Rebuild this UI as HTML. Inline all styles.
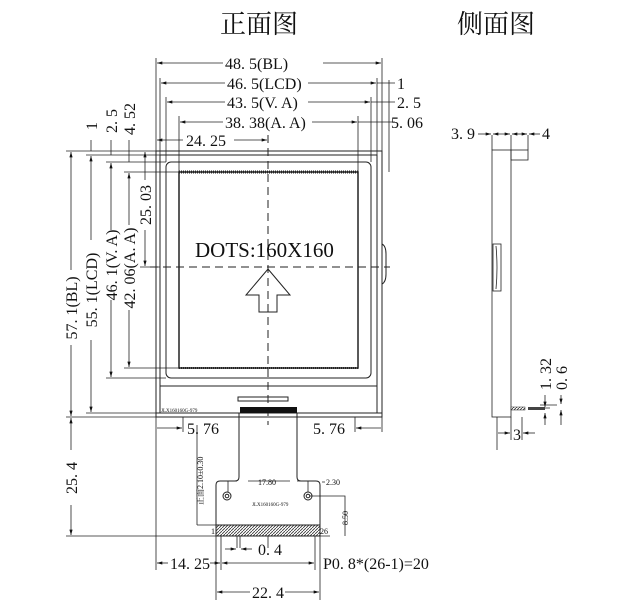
<!DOCTYPE html>
<html><head><meta charset="utf-8"><style>
html,body{margin:0;padding:0;background:#fff}
svg{display:block}
text{font-family:"Liberation Serif","Noto Serif CJK SC",serif;fill:#111}
</style></head><body>
<svg width="622" height="611" viewBox="0 0 622 611" xmlns="http://www.w3.org/2000/svg">
<defs>
<marker id="a" viewBox="0 0 10 6" refX="10" refY="3" markerWidth="8" markerHeight="4" orient="auto-start-reverse"><path d="M0,0L10,3L0,6z" fill="#111"/></marker>
<pattern id="h" width="3" height="3" patternUnits="userSpaceOnUse"><rect width="3" height="3" fill="#fff"/><path d="M0,3L3,0" stroke="#333" stroke-width="0.8"/></pattern>
</defs>
<g font-size="26" font-family="Noto Serif CJK SC,serif">
<text x="220" y="33">正面图</text>
<text x="457" y="33">侧面图</text>
</g>
<g fill="none" stroke="#222" stroke-width="1">
<rect x="156" y="151" width="226" height="266"/>
<path d="M160,155H377V413H160Z"/>
<line x1="160" y1="386" x2="377" y2="386"/>
<rect x="238" y="397" width="50" height="4"/>
<path d="M156,413h27M355,413h27"/>
<rect x="166" y="162" width="205" height="216" rx="5"/>
<rect x="179" y="172" width="179" height="196" stroke-width="1.5"/>
<path d="M179,172h179" stroke-width="3" stroke-dasharray="1 1"/>
<path d="M179,368h179" stroke-width="2" stroke-dasharray="1 1"/>
<path d="M382,244q4,2 4,10v20q0,8-4,10"/>
<path d="M268,135V425M150,267H390" stroke-dasharray="8 5"/>
<path d="M268,269L290,295H277V312H259V295H246Z"/>
<path d="M239,413V477q0,4-4,4H220q-4,0-4,4V536M297,413V477q0,4 4,4H316q4,0 4,4V536"/>
<rect x="216" y="525" width="104" height="11" fill="url(#h)"/>
<circle cx="227" cy="496" r="4"/><circle cx="227" cy="496" r="1.8"/>
<circle cx="308" cy="496" r="4"/><circle cx="308" cy="496" r="1.8"/>
</g>
<rect x="240" y="407" width="57" height="6" fill="#111"/>
<text x="195" y="257" font-size="21">DOTS:160X160</text>
<text x="161" y="412" font-size="5">JLX160160G-979</text>
<text x="252" y="506" font-size="5">JLX160160G-979</text>

<g stroke="#222" stroke-width="0.8" fill="none">
<path d="M156,151V58M382,151V58M160,155V78M377,155V78M166,162V97M371,162V97M179,172V116M358,172V116M389,80V155M389,98V162M389,117V172"/>
<line x1="157" y1="63" x2="223" y2="63" marker-start="url(#a)"/><line x1="323" y1="63" x2="381" y2="63" marker-end="url(#a)"/>
<line x1="161" y1="83" x2="225" y2="83" marker-start="url(#a)"/><line x1="308" y1="83" x2="376" y2="83" marker-end="url(#a)"/>
<path d="M377,83H395"/>
<line x1="167" y1="102" x2="225" y2="102" marker-start="url(#a)"/><line x1="308" y1="102" x2="370" y2="102" marker-end="url(#a)"/>
<path d="M371,102H395"/>
<line x1="180" y1="122" x2="223" y2="122" marker-start="url(#a)"/><line x1="312" y1="122" x2="357" y2="122" marker-end="url(#a)"/>
<path d="M358,122H395"/>
<line x1="157" y1="140" x2="183" y2="140" marker-start="url(#a)"/><line x1="234" y1="140" x2="267" y2="140" marker-end="url(#a)"/>
<path d="M66,151H156M86,155H160M106,162H166M124,172H179M140,267H160M66,417H156M86,413H160M106,378H166M124,368H179M66,536H330"/>
<line x1="71" y1="152" x2="71" y2="270" marker-start="url(#a)"/><line x1="71" y1="345" x2="71" y2="416" marker-end="url(#a)"/>
<line x1="91" y1="156" x2="91" y2="240" marker-start="url(#a)"/><line x1="91" y1="340" x2="91" y2="412" marker-end="url(#a)"/>
<line x1="111" y1="163" x2="111" y2="230" marker-start="url(#a)"/><line x1="111" y1="300" x2="111" y2="377" marker-end="url(#a)"/>
<line x1="129" y1="173" x2="129" y2="225" marker-start="url(#a)"/><line x1="129" y1="310" x2="129" y2="367" marker-end="url(#a)"/>
<line x1="145" y1="152" x2="145" y2="180" marker-start="url(#a)"/><line x1="145" y1="230" x2="145" y2="266" marker-end="url(#a)"/>
<path d="M91,140V151M111,140V155M129,140V162"/>
<line x1="71" y1="418" x2="71" y2="450" marker-start="url(#a)"/><line x1="71" y1="505" x2="71" y2="535" marker-end="url(#a)"/>
<path d="M156,417V570M183,417V432M355,417V432M382,417V432M216,536V600M320,536V600M221,536V570M315,536V570M237,536V548M240,536V548M268,536V548"/>
<line x1="157" y1="428" x2="182" y2="428" marker-end="url(#a)"/>
<line x1="356" y1="428" x2="381" y2="428" marker-start="url(#a)"/>
<line x1="157" y1="563" x2="168" y2="563" marker-start="url(#a)"/><line x1="210" y1="563" x2="220" y2="563" marker-end="url(#a)"/>
<line x1="222" y1="563" x2="314" y2="563" marker-start="url(#a)" marker-end="url(#a)"/>
<line x1="217" y1="592" x2="250" y2="592" marker-start="url(#a)"/><line x1="285" y1="592" x2="319" y2="592" marker-end="url(#a)"/>
<line x1="225" y1="549" x2="236" y2="549" marker-end="url(#a)"/><line x1="252" y1="549" x2="241" y2="549" marker-end="url(#a)"/>
<path d="M228,492V481H237M248,481H290M308,492V481H297M325,482H322M310,496H345V536M197,525H225M197,425V525"/>
<rect x="492" y="150" width="19" height="267"/>
<rect x="511" y="150" width="17" height="10"/>
<rect x="493" y="244" width="8" height="47"/>
<path d="M496,246q2,22 0,43"/>
<path d="M497,417V450M511,417V440M522,417V440M492,135V150M511,135V150M528,135V150M533,408H550M540,405H557"/>
<line x1="478" y1="134" x2="491" y2="134" marker-end="url(#a)"/>
<line x1="493" y1="134" x2="510" y2="134" marker-start="url(#a)" marker-end="url(#a)"/>
<line x1="512" y1="134" x2="527" y2="134" marker-start="url(#a)" marker-end="url(#a)"/>
<line x1="540" y1="134" x2="529" y2="134" marker-end="url(#a)"/>
<line x1="498" y1="433" x2="510" y2="433" marker-end="url(#a)"/>
<line x1="535" y1="433" x2="523" y2="433" marker-end="url(#a)"/>
<line x1="545" y1="395" x2="545" y2="407" marker-end="url(#a)"/><line x1="545" y1="425" x2="545" y2="413" marker-end="url(#a)"/>
<line x1="561" y1="395" x2="561" y2="404" marker-end="url(#a)"/><line x1="561" y1="425" x2="561" y2="410" marker-end="url(#a)"/>
</g>
<rect x="511" y="407" width="14" height="3" fill="url(#h)" stroke="#222" stroke-width="0.5"/>
<rect x="528" y="407" width="17" height="3" fill="#444"/>

<g font-size="16">
<text x="225" y="69">48. 5(BL)</text>
<text x="227" y="89">46. 5(LCD)</text>
<text x="227" y="108">43. 5(V. A)</text>
<text x="225" y="128">38. 38(A. A)</text>
<text x="186" y="146">24. 25</text>
<text x="397" y="89">1</text>
<text x="397" y="108">2. 5</text>
<text x="391" y="128">5. 06</text>
<text x="187" y="434">5. 76</text>
<text x="313" y="434">5. 76</text>
<text x="170" y="569">14. 25</text>
<text x="258" y="555">0. 4</text>
<text x="323" y="569">P0. 8*(26-1)=20</text>
<text x="252" y="598">22. 4</text>
<text x="451" y="139">3. 9</text>
<text x="542" y="139">4</text>
<text x="513" y="440">3</text>
</g>
<g font-size="16">
<text transform="translate(77,308) rotate(-90)" text-anchor="middle">57. 1(BL)</text>
<text transform="translate(97,290) rotate(-90)" text-anchor="middle">55. 1(LCD)</text>
<text transform="translate(117,265) rotate(-90)" text-anchor="middle">46. 1(V. A)</text>
<text transform="translate(135,268) rotate(-90)" text-anchor="middle">42. 06(A. A)</text>
<text transform="translate(151,205) rotate(-90)" text-anchor="middle">25. 03</text>
<text transform="translate(77,478) rotate(-90)" text-anchor="middle">25. 4</text>
<text transform="translate(97,130) rotate(-90)">1</text>
<text transform="translate(117,133) rotate(-90)">2. 5</text>
<text transform="translate(135,135) rotate(-90)">4. 52</text>
<text transform="translate(551,390) rotate(-90)">1. 32</text>
<text transform="translate(567,390) rotate(-90)">0. 6</text>
</g>
<g font-size="8" font-family="Liberation Sans,Noto Sans CJK SC,sans-serif">
<text x="258" y="485">17.80</text>
<text x="326" y="485">2.30</text>
<text x="320" y="534">26</text>
<text x="211" y="534">1</text>
<text transform="translate(348,525) rotate(-90)">8.50</text>
<text transform="translate(203,505) rotate(-90)">正面2.10±0.30</text>
</g>
</svg>
</body></html>
